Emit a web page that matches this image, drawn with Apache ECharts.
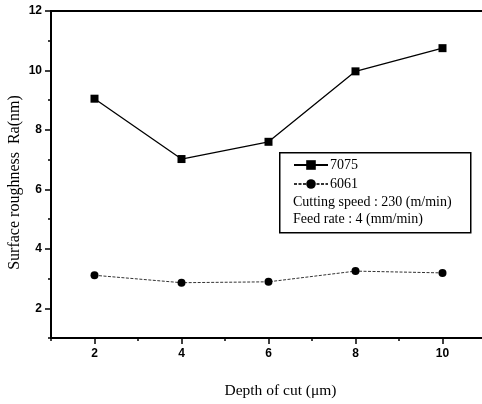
<!DOCTYPE html>
<html>
<head>
<meta charset="utf-8">
<script src="https://cdn.jsdelivr.net/npm/echarts@6/dist/echarts.min.js"></script>
<style>
  html, body { margin: 0; padding: 0; background: #fff; }
  #chart { width: 482px; height: 404px; }
</style>
</head>
<body>
<div id="chart"></div>
<script>
// Depth of cut (um) and measured surface roughness Ra (nm)
const depths = [2, 4, 6, 8, 10];
const ra7075 = [9.05, 7.02, 7.6, 9.97, 10.75];
const ra6061 = [3.11, 2.86, 2.89, 3.25, 3.19];
const xTickLabels = [2, 4, 6, 8, 10];
const yTickLabels = [2, 4, 6, 8, 10, 12];
const seriesNames = ['7075', '6061'];
const noteLines = ['Cutting speed : 230 (m/min)', 'Feed rate : 4 (mm/min)'];

const pairs = vals => depths.map((d, i) => [d, vals[i]]);
const tickFont = { fontFamily: 'Liberation Sans, Arial, sans-serif', fontWeight: 'bold', fontSize: 12, color: '#000' };
const serif = 'Liberation Serif, Times New Roman, serif';

const chart = echarts.init(document.getElementById('chart'));
chart.setOption({
  animation: false,
  grid: {
    left: 51, top: 11, width: 435, height: 327,
    outerBoundsMode: 'none', containLabel: false,
    show: true, borderColor: '#000', borderWidth: 2, backgroundColor: 'transparent'
  },
  xAxis: [
    {
      type: 'value', min: 1, max: 11, interval: 1,
      axisLine: { lineStyle: { color: '#000', width: 2 } },
      axisTick: { show: true, length: 3, lineStyle: { color: '#000', width: 1.5 } },
      axisLabel: { show: false },
      splitLine: { show: false },
      name: 'Depth of cut (\u03bcm)', nameLocation: 'middle', nameGap: 45,
      nameTextStyle: { fontFamily: serif, fontSize: 15.5, color: '#000', padding: [0, 0, 0, 24] }
    },
    {
      type: 'value', min: 1, max: 11, position: 'bottom',
      axisLine: { show: false },
      axisTick: { show: true, length: 6, customValues: xTickLabels, lineStyle: { color: '#000', width: 1.5 } },
      axisLabel: Object.assign({ customValues: xTickLabels, margin: 10 }, tickFont),
      splitLine: { show: false }
    }
  ],
  yAxis: [
    {
      type: 'value', min: 1, max: 12, interval: 1,
      axisLine: { show: true, lineStyle: { color: '#000', width: 2 } },
      axisTick: { show: true, length: 3, lineStyle: { color: '#000', width: 1.5 } },
      axisLabel: { show: false },
      splitLine: { show: false },
      name: 'Surface roughness  Ra(nm)', nameLocation: 'middle', nameGap: 28,
      nameTextStyle: { fontFamily: serif, fontSize: 16, color: '#000', padding: [0, 16, 0, 0] }
    },
    {
      type: 'value', min: 1, max: 12, position: 'left',
      axisLine: { show: false },
      axisTick: { show: true, length: 6, customValues: yTickLabels, lineStyle: { color: '#000', width: 1.5 } },
      axisLabel: Object.assign({ customValues: yTickLabels, margin: 9 }, tickFont),
      splitLine: { show: false }
    }
  ],
  legend: {
    orient: 'vertical', left: 293, top: 158, padding: 0, itemGap: 5,
    itemWidth: 34, itemHeight: 12,
    textStyle: { fontFamily: serif, fontSize: 14, color: '#000', padding: [0, 0, 0, -3] },
    data: seriesNames
  },
  graphic: [
    {
      type: 'rect', left: 279, top: 152, z: 10,
      shape: { width: 191, height: 80 },
      style: { fill: 'transparent', stroke: '#000', lineWidth: 1.5 }
    },
    {
      type: 'text', left: 293, top: 195, z: 10,
      style: { text: noteLines[0], font: '14px ' + serif, fill: '#000' }
    },
    {
      type: 'text', left: 293, top: 212, z: 10,
      style: { text: noteLines[1], font: '14px ' + serif, fill: '#000' }
    }
  ],
  series: [
    {
      name: seriesNames[0], type: 'line', data: pairs(ra7075),
      symbol: 'rect', symbolSize: 8,
      lineStyle: { color: '#000', width: 1.3 },
      itemStyle: { color: '#000' }
    },
    {
      name: seriesNames[1], type: 'line', data: pairs(ra6061),
      symbol: 'circle', symbolSize: 8,
      lineStyle: { color: '#333', width: 1, type: [3, 1.5] },
      itemStyle: { color: '#000' }
    }
  ]
});
</script>
</body>
</html>
